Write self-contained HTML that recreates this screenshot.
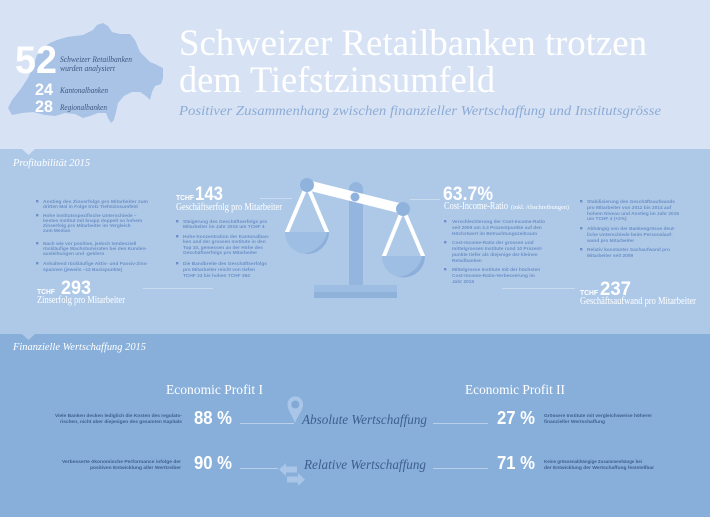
<!DOCTYPE html>
<html><head><meta charset="utf-8"><style>
html,body{margin:0;padding:0;background:#d7e3f4;}
svg{display:block;}
.s{font-family:"Liberation Sans",sans-serif;}
.r{font-family:"Liberation Serif",serif;}
.b{font-family:"Liberation Sans",sans-serif;font-weight:bold;font-size:4.8px;fill:#6d91c7;}
.d{font-family:"Liberation Sans",sans-serif;font-weight:bold;font-size:4.7px;fill:#3f5e8d;}
</style></head><body>
<svg width="710" height="517" viewBox="0 0 710 517" xmlns="http://www.w3.org/2000/svg">
<rect x="0" y="0" width="710" height="149" fill="#d7e3f4"/>
<rect x="0" y="149" width="710" height="185" fill="#aec9e8"/>
<rect x="0" y="334" width="710" height="183" fill="#87afda"/>
<polygon points="22,149 35,149 28.5,155" fill="#d7e3f4"/>
<polygon points="22,334 35,334 28.5,340" fill="#aec9e8"/>

<!-- map -->
<path d="M8,108 L12,100 L20,90 L28,78 L33,67 L37,55 L44,47 L50,43 L57,40 L67,37 L83,35 L93,30 L97,25 L103,23 L108,26 L112,32 L120,34 L130,34 L135,40 L140,52 L150,62 L155,64 L163,68 L163,78 L161,84 L155,86 L152,92 L150,100 L146,96 L140,92 L132,92 L124,96 L118,103 L116,112 L114,120 L111,123 L108,118 L106,113 L98,113 L90,116 L83,118 L75,114 L65,113 L55,116 L45,115 L33,112 L22,113 L12,115 Z" fill="#a8c3e5"/>
<text x="15" y="73" class="s" font-weight="bold" font-size="39" fill="#fff" textLength="42" lengthAdjust="spacingAndGlyphs">52</text>
<text x="60" y="62" class="r" font-style="italic" font-size="8.5" fill="#3d5882" textLength="72" lengthAdjust="spacingAndGlyphs">Schweizer Retailbanken</text>
<text x="60" y="71" class="r" font-style="italic" font-size="8.5" fill="#3d5882" textLength="55" lengthAdjust="spacingAndGlyphs">wurden analysiert</text>
<text x="35" y="95" class="s" font-weight="bold" font-size="17" fill="#fff" textLength="18" lengthAdjust="spacingAndGlyphs">24</text>
<text x="60" y="93" class="r" font-style="italic" font-size="8" fill="#3d5882" textLength="48" lengthAdjust="spacingAndGlyphs">Kantonalbanken</text>
<text x="35" y="112" class="s" font-weight="bold" font-size="17" fill="#fff" textLength="18" lengthAdjust="spacingAndGlyphs">28</text>
<text x="60" y="110" class="r" font-style="italic" font-size="8" fill="#3d5882" textLength="47" lengthAdjust="spacingAndGlyphs">Regionalbanken</text>

<!-- title -->
<text x="179" y="55" class="r" font-size="37" fill="#ffffff" textLength="468" lengthAdjust="spacingAndGlyphs">Schweizer Retailbanken trotzen</text>
<text x="179" y="92" class="r" font-size="37" fill="#ffffff" textLength="316" lengthAdjust="spacingAndGlyphs">dem Tiefstzinsumfeld</text>
<text x="179" y="115" class="r" font-style="italic" font-size="13.5" fill="#8cabd6" textLength="482" lengthAdjust="spacingAndGlyphs">Positiver Zusammenhang zwischen finanzieller Wertschaffung und Institutsgrösse</text>

<!-- Profitabilität -->
<text x="13" y="166" class="r" font-style="italic" font-size="10.5" fill="#fff" textLength="77" lengthAdjust="spacingAndGlyphs">Profitabilität 2015</text>

<!-- left column bullets -->
<g fill="#6d91c7">
<rect x="36" y="200" width="2.4" height="2.4"/>
<rect x="36" y="214" width="2.4" height="2.4"/>
<rect x="36" y="242" width="2.4" height="2.4"/>
<rect x="36" y="262" width="2.4" height="2.4"/>
</g>
<text class="b" x="43" y="203" textLength="105" lengthAdjust="spacingAndGlyphs">Anstieg des Zinserfolgs pro Mitarbeiter zum</text>
<text class="b" x="43" y="208">dritten Mal in Folge trotz Tiefstzinsumfeld</text>
<text class="b" x="43" y="217">Hohe institutsspezifische Unterschiede –</text>
<text class="b" x="43" y="222">bestes Institut mit knapp doppelt so hohem</text>
<text class="b" x="43" y="227">Zinserfolg pro Mitarbeiter im Vergleich</text>
<text class="b" x="43" y="232">zum Median</text>
<text class="b" x="43" y="245">Nach wie vor positive, jedoch tendenziell</text>
<text class="b" x="43" y="250" textLength="104" lengthAdjust="spacingAndGlyphs">rückläufige Wachstumsraten bei den Kunden-</text>
<text class="b" x="43" y="255">ausleihungen und -geldern</text>
<text class="b" x="43" y="265" textLength="105" lengthAdjust="spacingAndGlyphs">Anhaltend rückläufige Aktiv- und Passiv-Zins-</text>
<text class="b" x="43" y="271">spannen (jeweils –12 Basispunkte)</text>

<text x="37" y="294" class="s" font-weight="bold" font-size="7" fill="#fff" textLength="18" lengthAdjust="spacingAndGlyphs">TCHF</text>
<text x="61" y="294" class="s" font-weight="bold" font-size="19" fill="#fff" textLength="30" lengthAdjust="spacingAndGlyphs">293</text>
<text x="37" y="303" class="r" font-size="10" fill="#fff" textLength="88" lengthAdjust="spacingAndGlyphs">Zinserfolg pro Mitarbeiter</text>
<line x1="143" y1="288.5" x2="213" y2="288.5" stroke="#cadbf0" stroke-width="1"/>

<!-- middle column -->
<text x="176" y="200" class="s" font-weight="bold" font-size="7" fill="#fff" textLength="18" lengthAdjust="spacingAndGlyphs">TCHF</text>
<text x="195" y="200" class="s" font-weight="bold" font-size="19" fill="#fff" textLength="28" lengthAdjust="spacingAndGlyphs">143</text>
<line x1="260" y1="198.5" x2="292" y2="198.5" stroke="#cadbf0" stroke-width="1"/>
<text x="176" y="210" class="r" font-size="10" fill="#fff" textLength="106" lengthAdjust="spacingAndGlyphs">Geschäftserfolg pro Mitarbeiter</text>
<g fill="#6d91c7">
<rect x="176" y="220" width="2.4" height="2.4"/>
<rect x="176" y="235" width="2.4" height="2.4"/>
<rect x="176" y="262" width="2.4" height="2.4"/>
</g>
<text class="b" x="183" y="223">Steigerung des Geschäftserfolgs pro</text>
<text class="b" x="183" y="228">Mitarbeiter im Jahr 2015 um TCHF 4</text>
<text class="b" x="183" y="238">Hohe Konzentration der Kantonalban-</text>
<text class="b" x="183" y="243">ken und der grossen Institute in den</text>
<text class="b" x="183" y="249">Top 10, gemessen an der Höhe des</text>
<text class="b" x="183" y="254">Geschäftserfolgs pro Mitarbeiter</text>
<text class="b" x="183" y="265">Die Bandbreite des Geschäftserfolgs</text>
<text class="b" x="183" y="271">pro Mitarbeiter reicht von tiefen</text>
<text class="b" x="183" y="277">TCHF 23 bis hohen TCHF 394</text>

<!-- scale -->
<defs>
<clipPath id="pl"><path d="M285,232 A22,22 0 0 0 329,232 Z"/></clipPath>
<clipPath id="pr"><path d="M382,256 A21.5,21.5 0 0 0 425,256 Z"/></clipPath>
</defs>
<rect x="349" y="182" width="14" height="108" rx="7" fill="#94b6de"/>
<rect x="314" y="285" width="83" height="13" rx="1.5" fill="#9dbde3"/>
<rect x="314" y="292" width="83" height="6" fill="#8fb2db"/>
<g stroke="#ffffff" stroke-width="4" stroke-linecap="round">
<line x1="307" y1="185" x2="287" y2="232"/>
<line x1="307" y1="185" x2="327" y2="232"/>
<line x1="403" y1="209" x2="384" y2="256"/>
<line x1="403" y1="209" x2="423" y2="256"/>
</g>
<path d="M285,232 A22,22 0 0 0 329,232 Z" fill="#8db0da"/>
<g clip-path="url(#pl)"><circle cx="300" cy="226" r="28" fill="#9ebee3"/></g>
<path d="M382,256 A21.5,21.5 0 0 0 425,256 Z" fill="#8db0da"/>
<g clip-path="url(#pr)"><circle cx="396" cy="250" r="27" fill="#9ebee3"/></g>
<line x1="307" y1="185" x2="403" y2="209" stroke="#ffffff" stroke-width="10"/>
<circle cx="307" cy="185" r="7" fill="#8fb3dc"/>
<circle cx="403" cy="209" r="7" fill="#8fb3dc"/>
<circle cx="355" cy="197" r="4.5" fill="#8fb3dc"/>

<!-- right column -->
<text x="443" y="200" class="s" font-weight="bold" font-size="19" fill="#fff" textLength="50" lengthAdjust="spacingAndGlyphs">63.7%</text>
<line x1="410" y1="199.5" x2="440" y2="199.5" stroke="#cadbf0" stroke-width="1"/>
<text x="444" y="209" class="r" font-size="10" fill="#fff" textLength="64" lengthAdjust="spacingAndGlyphs">Cost-Income-Ratio</text>
<text x="511" y="209" class="r" font-size="6.5" fill="#fff" textLength="58" lengthAdjust="spacingAndGlyphs">(inkl. Abschreibungen)</text>
<g fill="#6d91c7">
<rect x="444" y="220" width="2.4" height="2.4"/>
<rect x="444" y="241" width="2.4" height="2.4"/>
<rect x="444" y="268" width="2.4" height="2.4"/>
</g>
<text class="b" x="452" y="223">Verschlechterung der Cost-Income-Ratio</text>
<text class="b" x="452" y="229">seit 2009 um 3.3 Prozentpunkte auf den</text>
<text class="b" x="452" y="235">Höchstwert im Betrachtungszeitraum</text>
<text class="b" x="452" y="244">Cost-Income-Ratio der grossen und</text>
<text class="b" x="452" y="250">mittelgrossen Institute rund 10 Prozent-</text>
<text class="b" x="452" y="256">punkte tiefer als diejenige der kleinen</text>
<text class="b" x="452" y="262">Retailbanken</text>
<text class="b" x="452" y="271">Mittelgrosse Institute mit der höchsten</text>
<text class="b" x="452" y="277">Cost-Income-Ratio-Verbesserung im</text>
<text class="b" x="452" y="283">Jahr 2015</text>

<g fill="#6d91c7">
<rect x="580" y="200" width="2.4" height="2.4"/>
<rect x="580" y="227" width="2.4" height="2.4"/>
<rect x="580" y="248" width="2.4" height="2.4"/>
</g>
<text class="b" x="587" y="203">Stabilisierung des Geschäftsaufwands</text>
<text class="b" x="587" y="209">pro Mitarbeiter von 2012 bis 2014 auf</text>
<text class="b" x="587" y="215">hohem Niveau und Anstieg im Jahr 2015</text>
<text class="b" x="587" y="220">um TCHF 4 (+2%)</text>
<text class="b" x="587" y="230">Abhängig von der Bankengrösse deut-</text>
<text class="b" x="587" y="236">liche Unterschiede beim Personalauf-</text>
<text class="b" x="587" y="242">wand pro Mitarbeiter</text>
<text class="b" x="587" y="251">Relativ konstanter Sachaufwand pro</text>
<text class="b" x="587" y="257">Mitarbeiter seit 2009</text>

<line x1="502" y1="288.5" x2="575" y2="288.5" stroke="#cadbf0" stroke-width="1"/>
<text x="580" y="295" class="s" font-weight="bold" font-size="7" fill="#fff" textLength="18" lengthAdjust="spacingAndGlyphs">TCHF</text>
<text x="600" y="295" class="s" font-weight="bold" font-size="19" fill="#fff" textLength="31" lengthAdjust="spacingAndGlyphs">237</text>
<text x="580" y="304" class="r" font-size="10" fill="#fff" textLength="116" lengthAdjust="spacingAndGlyphs">Geschäftsaufwand pro Mitarbeiter</text>

<!-- Finanzielle Wertschaffung -->
<text x="13" y="350" class="r" font-style="italic" font-size="10.5" fill="#fff" textLength="133" lengthAdjust="spacingAndGlyphs">Finanzielle Wertschaffung 2015</text>
<text x="166" y="394" class="r" font-size="14" fill="#fff" textLength="97" lengthAdjust="spacingAndGlyphs">Economic Profit I</text>
<text x="465" y="394" class="r" font-size="14" fill="#fff" textLength="100" lengthAdjust="spacingAndGlyphs">Economic Profit II</text>

<text class="d" x="182" y="417" text-anchor="end" textLength="127" lengthAdjust="spacingAndGlyphs">Viele Banken decken lediglich die Kosten des regulato-</text>
<text class="d" x="182" y="423" text-anchor="end" textLength="122" lengthAdjust="spacingAndGlyphs">rischen, nicht aber diejenigen des gesamten Kapitals</text>
<text x="194" y="424" class="s" font-weight="bold" font-size="18" fill="#fff" textLength="38" lengthAdjust="spacingAndGlyphs">88 %</text>
<line x1="240" y1="423.5" x2="294" y2="423.5" stroke="#b9cfea" stroke-width="1"/>
<!-- pin -->
<path d="M287.5,405 A7.8,7.8 0 1 1 303,405 C303,410 298,415 295,423 C292,415 287.5,410 287.5,405 Z" fill="#a9c5e7"/>
<circle cx="295.3" cy="404.5" r="4" fill="#82a9d6"/>
<text x="302" y="424" class="r" font-style="italic" font-size="14" fill="#3f5e8d" textLength="125" lengthAdjust="spacingAndGlyphs">Absolute Wertschaffung</text>
<line x1="433" y1="423.5" x2="488" y2="423.5" stroke="#b9cfea" stroke-width="1"/>
<text x="497" y="424" class="s" font-weight="bold" font-size="18" fill="#fff" textLength="38" lengthAdjust="spacingAndGlyphs">27 %</text>
<text class="d" x="544" y="417" textLength="108" lengthAdjust="spacingAndGlyphs">Grössere Institute mit vergleichsweise höherer</text>
<text class="d" x="544" y="423" textLength="61" lengthAdjust="spacingAndGlyphs">finanzieller Wertschaffung</text>

<text class="d" x="181" y="463" text-anchor="end" textLength="119" lengthAdjust="spacingAndGlyphs">Verbesserte ökonomische Performance infolge der</text>
<text class="d" x="181" y="469" text-anchor="end" textLength="91" lengthAdjust="spacingAndGlyphs">positiven Entwicklung aller Werttreiber</text>
<text x="194" y="469" class="s" font-weight="bold" font-size="18" fill="#fff" textLength="38" lengthAdjust="spacingAndGlyphs">90 %</text>
<line x1="240" y1="468.5" x2="278" y2="468.5" stroke="#b9cfea" stroke-width="1"/>
<!-- arrows -->
<polygon points="279,469.5 286,463 286,466.5 297,466.5 297,472.5 286,472.5 286,476" fill="#a9c5e7"/>
<polygon points="305,479.5 298,473 298,476.5 287,476.5 287,482.5 298,482.5 298,486" fill="#a9c5e7"/>
<text x="304" y="469" class="r" font-style="italic" font-size="14" fill="#3f5e8d" textLength="122" lengthAdjust="spacingAndGlyphs">Relative Wertschaffung</text>
<line x1="433" y1="468.5" x2="488" y2="468.5" stroke="#b9cfea" stroke-width="1"/>
<text x="497" y="469" class="s" font-weight="bold" font-size="18" fill="#fff" textLength="38" lengthAdjust="spacingAndGlyphs">71 %</text>
<text class="d" x="544" y="463" textLength="98" lengthAdjust="spacingAndGlyphs">Keine grössenabhängige Zusammenhänge bei</text>
<text class="d" x="544" y="469" textLength="110" lengthAdjust="spacingAndGlyphs">der Entwicklung der Wertschaffung feststellbar</text>
</svg>
</body></html>
